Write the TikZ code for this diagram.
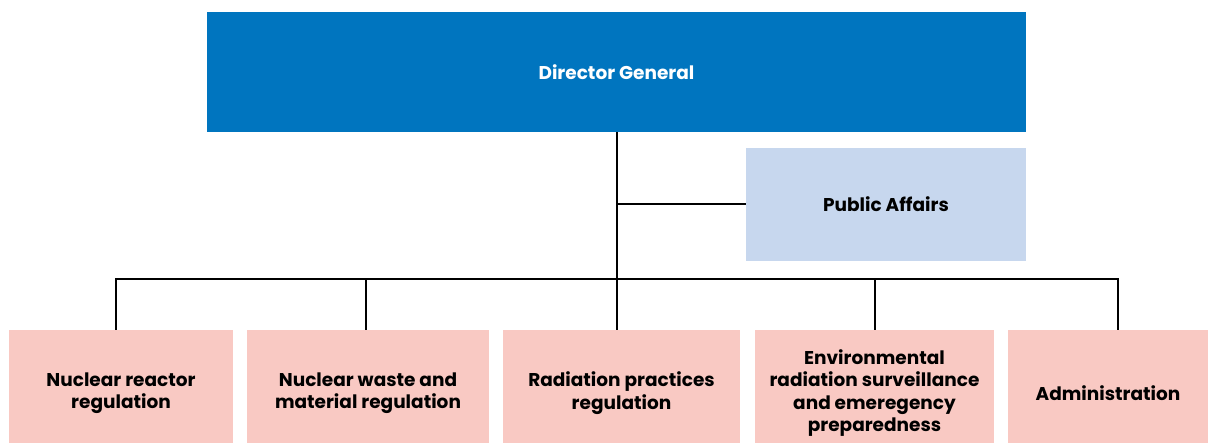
\documentclass[tikz,border=0pt]{standalone}
\usepackage{fontspec}
\setmainfont{Poppins}
\definecolor{dgblue}{HTML}{0075BF}
\definecolor{pablue}{HTML}{C7D7EE}
\definecolor{unitpink}{HTML}{F9C9C3}
\begin{document}
\begin{tikzpicture}[x=1pt,y=-1pt,
  boxbase/.style={draw=none,inner sep=0pt,outer sep=0pt,align=center,
    font=\fontsize{18.5}{22.5}\selectfont\bfseries},
  dgbox/.style={boxbase,fill=dgblue,text=white,minimum width=819pt,minimum height=120pt},
  pabox/.style={boxbase,fill=pablue,text=black,minimum width=280pt,minimum height=113pt},
  unitbox/.style={boxbase,fill=unitpink,text=black,minimum height=126pt,minimum width=#1},
  link/.style={draw=black,line width=2pt}]
\useasboundingbox (0,0) rectangle (1208,443);
\node[dgbox] (dg) at (616.5,72) {Director General};
\node[pabox] (pa) at (886,204.5) {Public Affairs};
\node[unitbox=224pt] (b1) at (121,393) {Nuclear reactor\\regulation};
\node[unitbox=242pt] (b2) at (368,393) {Nuclear waste and\\material regulation};
\node[unitbox=237pt] (b3) at (621.5,393) {Radiation practices\\regulation};
\node[unitbox=239pt] (b4) at (874.5,393) {Environmental\\radiation surveillance\\and emeregency\\preparedness};
\node[unitbox=200pt] (b5) at (1108,393) {Administration};
\coordinate (d1) at (116,279);
\coordinate (d2) at (366,279);
\coordinate (d3) at (617,279);
\coordinate (d4) at (875,279);
\coordinate (d5) at (1118,279);
\draw[link] (dg.south -| d3) -- (d3 |- b3.north);
\draw[link] (d3 |- pa.west) -- (pa.west);
\draw[link] (d1 |- b1.north) -- (d1) -- (d5) -- (d5 |- b5.north);
\draw[link] (d2) -- (d2 |- b2.north);
\draw[link] (d4) -- (d4 |- b4.north);
\end{tikzpicture}
\end{document}
